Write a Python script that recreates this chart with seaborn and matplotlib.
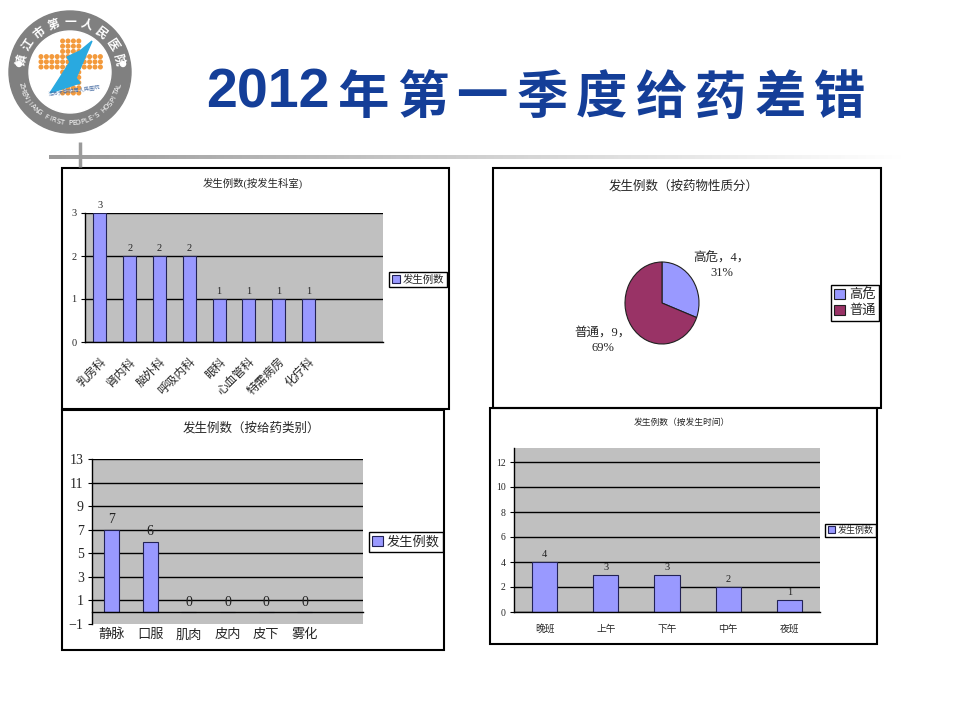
import numpy as np
import matplotlib
matplotlib.use('Agg')
import matplotlib.pyplot as plt
import seaborn as sns
from matplotlib.patches import Rectangle, Circle, Polygon, Patch
from matplotlib.colors import LinearSegmentedColormap

# data
dept_names = ['乳房科', '肾内科', '脑外科', '呼吸内科', '眼科', '心血管科', '特需病房', '化疗科']
dept_counts = [3, 2, 2, 2, 1, 1, 1, 1]
nature_names = ['高危', '普通']
nature_counts = [4, 9]
route_names = ['静脉', '口服', '肌肉', '皮内', '皮下', '雾化']
route_counts = [7, 6, 0, 0, 0, 0]
shift_names = ['晚班', '上午', '下午', '中午', '夜班']
shift_counts = [4, 3, 3, 2, 1]
series_name = '发生例数'

slide_title_year = '2012'
slide_title_text = '年第一季度给药差错'
hospital_cn = '镇江市第一人民医院'
hospital_en = "ZHENJIANG FIRST PEOPLE'S HOSPITAL"
hospital_sub = '江苏大学附属人民医院'

title_dept = '发生例数(按发生科室)'
title_nature = '发生例数（按药物性质分）'
title_route = '发生例数（按给药类别）'
title_shift = '发生例数（按发生时间）'

BAR = '#9999FF'
BAR_EDGE = '#222255'
PLOT_BG = '#C0C0C0'
TITLE_BLUE = '#143E98'

sns.set_style('white')
plt.rcParams['font.family'] = ['Liberation Serif', 'Noto Sans CJK SC', 'DejaVu Sans']
plt.rcParams['axes.unicode_minus'] = True

W, H = 960, 720
fig = plt.figure(figsize=(W / 100, H / 100), dpi=100)


def rect(x0, y0, x1, y1):
    # pixel box (top-left origin) -> figure fraction
    return [x0 / W, 1 - y1 / H, (x1 - x0) / W, (y1 - y0) / H]


def fig_pt(x, y):
    return (x / W, 1 - y / H)


# background layer: logo, title, rules, panel frames
bg = fig.add_axes([0, 0, 1, 1], zorder=0)
bg.axis('off')

grad = LinearSegmentedColormap.from_list('rule', ['#9A9A9A', '#D0D0D0', '#FFFFFF'])
bg.imshow(np.linspace(0, 1, 200)[None, :], cmap=grad, extent=[49, 905, 159, 155], aspect='auto')
bg.plot([80, 80], [142, 167], color='#9A9A9A', lw=2.5, solid_capstyle='butt')
bg.set_xlim(0, W)
bg.set_ylim(H, 0)

# logo
cx, cy = 70, 72
bg.add_patch(Circle((cx, cy), 61, color='#808080'))
bg.add_patch(Circle((cx, cy), 41, color='white'))
bg.add_patch(Circle((cx - 51, cy - 8), 2.5, color='white'))
bg.add_patch(Circle((cx + 53, cy - 8), 2.5, color='white'))
for k in range(12):
    for j in range(11):
        if 4 <= k <= 7 or 3 <= j <= 5:
            bg.add_patch(Circle((41 + 5.4 * k, 41 + 5.2 * j), 1.8, color='#F39A3C'))
bg.add_patch(Polygon([(92, 41), (76, 78), (80, 83), (50, 93), (70, 62), (67, 57), (80, 51)],
                     closed=True, color='#29A9E0'))
for i, ch in enumerate(hospital_cn):
    a = np.radians(166 - i * 19)
    bg.text(cx + 50 * np.cos(a), cy - 50 * np.sin(a), ch, color='white', fontsize=8.5,
            family=['Noto Sans CJK SC'], weight='bold', ha='center', va='center',
            rotation=np.degrees(a) - 90)
for i, ch in enumerate(hospital_en):
    a = np.radians(195 + i * 150 / (len(hospital_en) - 1))
    bg.text(cx + 51 * np.cos(a), cy - 51 * np.sin(a), ch, color='white', fontsize=5,
            family=['DejaVu Sans'], ha='center', va='center',
            rotation=np.degrees(a) + 90)
bg.text(74, 91, hospital_sub, fontsize=3.8, color='#4A6FA5', family=['Noto Sans CJK SC'],
        ha='center', va='center', rotation=8)

# slide title
bg.text(206, 94, slide_title_year, fontsize=40, weight='bold', color=TITLE_BLUE,
        family=['Liberation Sans'], ha='left', va='center')
for i, ch in enumerate(slide_title_text):
    bg.text(363 + 59.6 * i, 98, ch, fontsize=37, weight='bold', color=TITLE_BLUE,
            family=['Noto Sans CJK SC'], ha='center', va='center')

# panel frames
for x0, y0, x1, y1 in [(62, 168, 449, 409), (493, 168, 881, 408),
                       (62, 410, 444, 650), (490, 408, 877, 644)]:
    bg.add_patch(Rectangle((x0, y0), x1 - x0, y1 - y0, fill=False, ec='black', lw=1.5))

bg.text(253, 183, title_dept, fontsize=7.5, ha='center', va='center')
bg.text(684, 186, title_nature, fontsize=9, ha='center', va='center')
bg.text(251, 428, title_route, fontsize=9, ha='center', va='center')
bg.text(682, 423, title_shift, fontsize=6.3, ha='center', va='center')


def bar_panel(box, names, counts, n_slots, width, ylim, yticks, tick_fs, lab_fs, val_fs,
              val_pad, legend_xy, legend_fs, xpad, rot=0, zero_axis=False):
    ax = fig.add_axes(rect(*box), zorder=2)
    sns.barplot(x=names, y=counts, color=BAR, edgecolor=BAR_EDGE, linewidth=0.8,
                width=width, saturation=1, ax=ax)
    ax.set_facecolor(PLOT_BG)
    ax.set_xlim(-0.5, n_slots - 0.5)
    ax.set_ylim(*ylim)
    ax.set_yticks(yticks)
    ax.set_axisbelow(True)
    ax.yaxis.grid(True, color='black', lw=1)
    ax.set_xlabel('')
    ax.set_ylabel('')
    for s in ['top', 'right']:
        ax.spines[s].set_visible(False)
    for s in ['left', 'bottom']:
        ax.spines[s].set_color('black')
        ax.spines[s].set_linewidth(1)
    if zero_axis:
        ax.spines['bottom'].set_position(('data', 0))
        ax.get_ygridlines()[0].set_visible(False)
    ax.set_xticks(np.arange(-0.5, n_slots, 1), minor=True)
    ax.tick_params(axis='x', which='minor', direction='in', length=4, color='black', width=1)
    ax.tick_params(axis='x', which='major', length=0, labelsize=lab_fs, pad=xpad)
    ax.tick_params(axis='y', which='major', direction='out', length=3, color='black',
                   labelsize=tick_fs, pad=3, left=True)
    if rot:
        for t in ax.get_xticklabels():
            t.set_rotation(rot)
            t.set_ha('right')
            t.set_rotation_mode('anchor')
    ax.bar_label(ax.containers[0], padding=val_pad, fontsize=val_fs, color='#222222',
                 annotation_clip=False)
    handle = Patch(facecolor=BAR, edgecolor=BAR_EDGE, linewidth=0.8)
    ax.legend([handle], [series_name], loc='center', bbox_to_anchor=fig_pt(*legend_xy),
              bbox_transform=fig.transFigure, fontsize=legend_fs, frameon=True,
              fancybox=False, edgecolor='black', framealpha=1, handlelength=0.8,
              handleheight=0.8, handletextpad=0.3, borderpad=0.25, borderaxespad=0)
    ax.get_legend().get_frame().set_linewidth(1)
    return ax


bar_panel((85, 213, 383, 342), dept_names, dept_counts, 10, 0.44, (0, 3), [0, 1, 2, 3],
          7.5, 8.5, 7.5, 2.5, (418, 279.5), 7.5, 10, rot=45)
bar_panel((92, 459, 363, 624), route_names, route_counts, 7, 0.39, (-1, 13),
          list(range(-1, 14, 2)), 10, 9.5, 10, 2.5, (406, 542), 9.5, 12, zero_axis=True)
bar_panel((514, 448, 820, 612), shift_names, shift_counts, 5, 0.41, (0, 13.12),
          list(range(0, 13, 2)), 7, 7, 7.5, 2, (850.5, 530.5), 6.5, 9)

# pie
ax2 = fig.add_axes(rect(562, 203, 762, 403), zorder=2)
total = sum(nature_counts)
pie_labels = [f'{n}，{v}，\n{round(v / total * 100)}%' for n, v in zip(nature_names, nature_counts)]
wedges, texts = ax2.pie(nature_counts, colors=[BAR, '#993366'], startangle=90,
                        counterclock=False, labels=pie_labels, labeldistance=1.8,
                        wedgeprops=dict(edgecolor='#202020', linewidth=0.8),
                        textprops=dict(fontsize=9, linespacing=1.3))
for w, t in zip(wedges, texts):
    mid = np.radians((w.theta1 + w.theta2) / 2)
    t.set_position((1.95 * np.cos(mid), 1.6 * np.sin(mid)))
    t.set_ha('center')
    t.set_va('center')
ax2.set_aspect('auto')
ax2.set_xlim(-100 / 37, 100 / 37)
ax2.set_ylim(-100 / 41, 100 / 41)
ax2.legend(wedges, nature_names, loc='center', bbox_to_anchor=fig_pt(855, 303),
           bbox_transform=fig.transFigure, fontsize=9.5, frameon=True, fancybox=False,
           edgecolor='black', framealpha=1, handlelength=0.8, handleheight=0.8,
           handletextpad=0.3, borderpad=0.25, labelspacing=0.2, borderaxespad=0)
ax2.get_legend().get_frame().set_linewidth(1)

fig.savefig('out.png', dpi=100)
